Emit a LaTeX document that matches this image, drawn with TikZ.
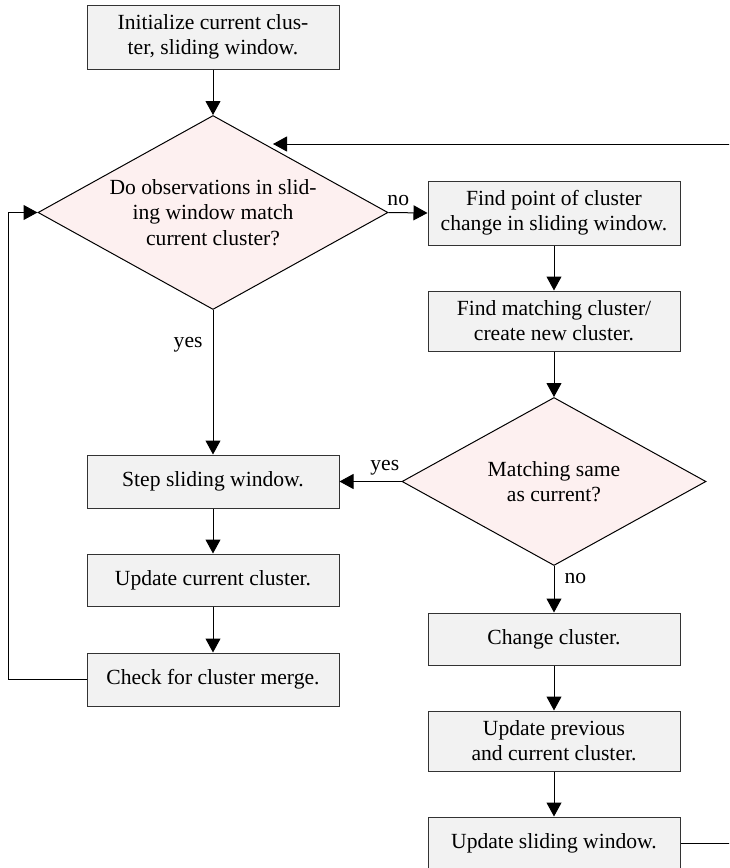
\documentclass[tikz,border=0pt]{standalone}
\usepackage{fontspec}
\setmainfont{Liberation Serif}
\usetikzlibrary{shapes.geometric,arrows.meta}
\definecolor{boxfill}{HTML}{F2F2F2}
\definecolor{decfill}{HTML}{FDF0F0}
\definecolor{boxline}{HTML}{333333}
\tikzset{
  stepbox/.style={draw=boxline, fill=boxfill, line width=0.5pt, rectangle,
    minimum width=126pt, inner sep=2pt, align=center, font=\fontsize{10.8}{12.6}\selectfont},
  decision/.style={draw=black, fill=decfill, line width=0.5pt, diamond, aspect=1.8,
    inner sep=0pt, align=center, font=\fontsize{10.8}{12.6}\selectfont},
  conn/.style={line width=0.5pt, -{Triangle[length=7pt,width=7.5pt]}},
  lbl/.style={font=\fontsize{10.8}{12.6}\selectfont, inner sep=1pt}
}
\begin{document}
\begin{tikzpicture}[x=0.5pt,y=-0.5pt]
\useasboundingbox (0,0) rectangle (729,868);
\clip (0,0) rectangle (729,868);

\node[stepbox, minimum height=32pt] (init) at (213,37) {Initialize current clus-\\ter, sliding window.};
\node[decision, minimum width=175pt, minimum height=97pt] (d1) at (213,212.5) {Do observations in slid-\\ing window match\\current cluster?};
\node[stepbox, minimum height=32pt] (findpt) at (554,213) {Find point of cluster\\change in sliding window.};
\node[stepbox, minimum height=30pt] (findmatch) at (554,321) {Find matching cluster/\\create new cluster.};
\node[decision, minimum width=152pt, minimum height=84pt] (d2) at (554,481.5) {Matching same\\as current?};
\node[stepbox, minimum height=26.5pt] (stepw) at (213,481.5) {Step sliding window.};
\node[stepbox, minimum height=26pt] (updcur) at (213,580) {Update current cluster.};
\node[stepbox, minimum height=26.5pt] (check) at (213,679.5) {Check for cluster merge.};
\node[stepbox, minimum height=26pt] (change) at (554,639) {Change cluster.};
\node[stepbox, minimum height=30pt] (updprev) at (554,741) {Update previous\\and current cluster.};
\node[stepbox, minimum height=26.5pt] (updslide) at (554,843.5) {Update sliding window.};

\coordinate (loopL) at (8,679.5);
\coordinate (loopLT) at (8,212.5);
\coordinate (loopR) at (760,843.5);
\coordinate (loopRT) at (760,144);
\coordinate (d1in) at (273,144);

\draw[conn] (init) -- (d1);
\draw[conn] (d1.east) -- node[lbl, pos=0.25, above=2pt] {no} (findpt.west);
\draw[conn] (findpt) -- (findmatch);
\draw[conn] (findmatch) -- (d2);
\draw[conn] (d2.west) -- node[lbl, pos=0.27, above=2pt] {yes} (stepw.east);
\draw[conn] (d1.south) -- node[lbl, pos=0.24, left=4pt] {yes} (stepw.north);
\draw[conn] (stepw) -- (updcur);
\draw[conn] (updcur) -- (check);
\draw[conn] (check.west) -- (loopL) -- (loopLT) -- (d1.west);
\draw[conn] (d2.south) -- node[lbl, pos=0.27, right=4pt] {no} (change.north);
\draw[conn] (change) -- (updprev);
\draw[conn] (updprev) -- (updslide);
\draw[conn] (updslide.east) -- (loopR) -- (loopRT) -- (d1in);
\end{tikzpicture}
\end{document}
